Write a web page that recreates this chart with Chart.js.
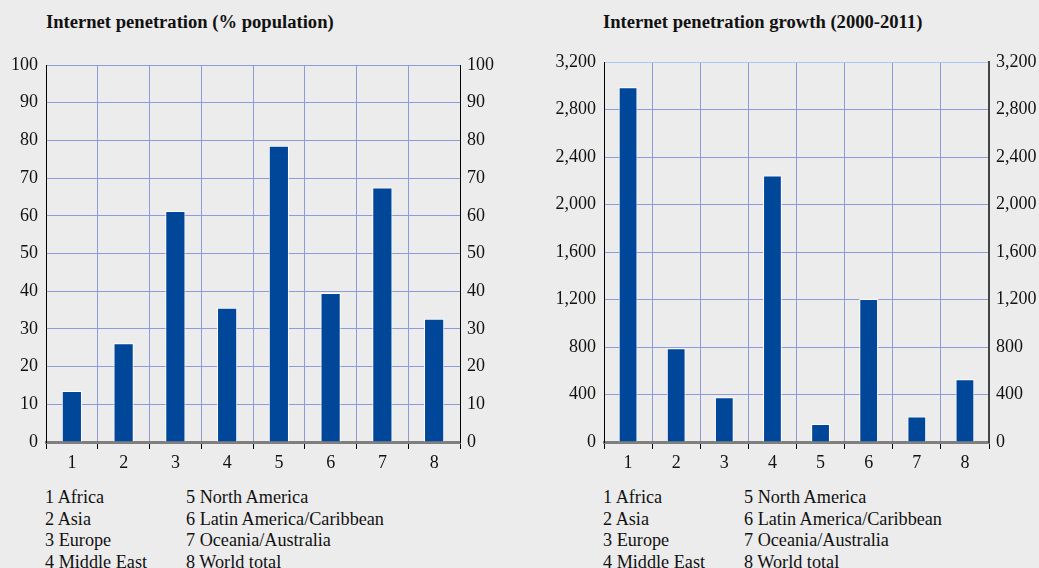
<!DOCTYPE html>
<html>
<head>
<meta charset="utf-8">
<script src="https://cdn.jsdelivr.net/npm/chart.js"></script>
<style>
  html, body { margin: 0; padding: 0; background: #ececec; }
  body { width: 1039px; height: 568px; position: relative; overflow: hidden;
         font-family: "Liberation Serif", "Times New Roman", serif; color: #111; }
  .title { position: absolute; top: 11px; font-weight: bold; font-size: 18.6px; white-space: nowrap; }
  .key { position: absolute; top: 487px; font-size: 18.2px; line-height: 21.7px; white-space: nowrap; }
  canvas { position: absolute; top: 0; }
</style>
</head>
<body>
<div class="title" style="left:46px">Internet penetration (% population)</div>
<div class="title" style="left:603px">Internet penetration growth (2000-2011)</div>
<div id="key1" class="key" style="left:45px"></div>
<div id="key1b" class="key" style="left:186px"></div>
<div id="key2" class="key" style="left:603px"></div>
<div id="key2b" class="key" style="left:744px"></div>
<div style="position:absolute;left:0;top:0;width:520px;height:480px"><canvas id="c1"></canvas></div>
<div style="position:absolute;left:540px;top:0;width:499px;height:480px"><canvas id="c2"></canvas></div>
<script>
// categories and region names
const categories = ['1', '2', '3', '4', '5', '6', '7', '8'];
const regions = ['Africa', 'Asia', 'Europe', 'Middle East', 'North America',
                 'Latin America/Caribbean', 'Oceania/Australia', 'World total'];

// internet penetration, % of population (2011)
const penetration = [13.5, 26.2, 61.3, 35.6, 78.6, 39.5, 67.5, 32.7];
// growth of internet users 2000-2011, %
const growth = [2988.4, 789.6, 376.4, 2244.8, 152.6, 1205.1, 214.0, 528.1];

// axis settings
const penMax = 100, penStep = 10;
const growthMax = 3200, growthStep = 400;

const barColor = '#00479a';
const gridColor = '#8e9bd8';
const tickFont = { family: '"Liberation Serif", "Times New Roman", serif', size: 18 };

// key text under each chart
function fillKey(id, from, to) {
    document.getElementById(id).innerHTML = categories.slice(from, to)
        .map((c, i) => c + ' ' + regions[from + i]).join('<br>');
}
fillKey('key1', 0, 4); fillKey('key1b', 4, 8);
fillKey('key2', 0, 4); fillKey('key2b', 4, 8);

function makeChart(id, values, max, step, leftW, rightW, topPad, fmt, opts) {
    const canvas = document.getElementById(id);
    return new Chart(canvas, {
        type: 'bar',
        data: {
            labels: categories,
            datasets: [{
                data: values,
                backgroundColor: barColor,
                borderColor: '#ffffff',
                borderWidth: 1,
                borderSkipped: 'bottom',
                barPercentage: 0.39,
                categoryPercentage: 1
            }]
        },
        options: {
            responsive: true,
            maintainAspectRatio: false,
            animation: false,
            layout: { padding: { top: topPad, left: 0, right: 0, bottom: 0 } },
            plugins: { legend: { display: false }, tooltip: { enabled: false } },
            scales: {
                x: {
                    offset: true,
                    grid: { offset: true, color: gridColor, tickColor: '#000', tickLength: 7, lineWidth: 1 },
                    border: { display: true, color: '#7f7f7f', width: 3 },
                    ticks: { color: '#111', font: tickFont, padding: 3 },
                    afterFit: s => { s.height = 38; }
                },
                y: {
                    position: 'left',
                    min: 0, max: max,
                    grid: { drawTicks: false, color: opts.gridColorFn || gridColor },
                    border: { display: true, color: '#000', width: 1 },
                    ticks: { stepSize: step, color: '#111', font: tickFont, padding: 8, callback: fmt },
                    afterFit: s => { s.width = leftW; }
                },
                y2: {
                    position: 'right',
                    min: 0, max: max,
                    grid: { display: false, drawTicks: false },
                    border: { display: true, color: opts.rightBorder || '#000', width: opts.rightBorderW || 1 },
                    ticks: { stepSize: step, color: '#111', font: tickFont, padding: 7, callback: fmt },
                    afterFit: s => { s.width = rightW; }
                }
            }
        }
    });
}

makeChart('c1', penetration, penMax, penStep, 46, 60, 65, v => v, {});
makeChart('c2', growth, growthMax, growthStep, 64, 50, 62,
    v => v.toLocaleString('en-US'),
    { gridColorFn: ctx => (ctx.tick && ctx.tick.value === growthMax) ? '#a9c8ee' : gridColor,
      rightBorder: '#444', rightBorderW: 2 });
</script>
</body>
</html>
